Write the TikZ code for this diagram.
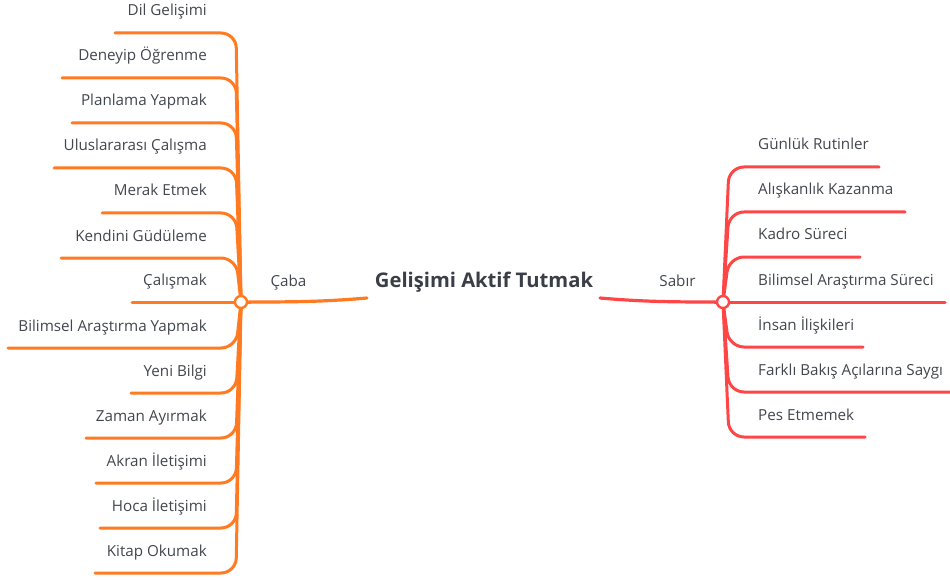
\documentclass[tikz,border=0pt]{standalone}
\usepackage{fontspec}
\setmainfont{Open Sans}
\definecolor{caba}{RGB}{255,122,32}
\definecolor{sabir}{RGB}{255,70,70}
\definecolor{txt}{RGB}{66,70,78}
\definecolor{title}{RGB}{58,62,70}
\begin{document}
\begin{tikzpicture}[x=1pt,y=-1pt,
  leaf/.style={font=\fontsize{15.2}{18}\selectfont, text=txt, inner sep=0pt},
  topic/.style={font=\fontsize{15.2}{18}\selectfont, text=txt, inner sep=0pt},
  root/.style={font=\bfseries\fontsize{20.2}{23}\selectfont, text=title, inner sep=0pt},
  hub/.style={circle, fill=white, line width=2.4pt, minimum size=12pt, inner sep=0pt},
  twig/.style={line width=3pt, rounded corners=15pt, line cap=round},
  stem/.style={line width=3.2pt, line cap=round},
]
\useasboundingbox (0,0) rectangle (950,580);

% central topic and the two main topic labels
\node[root, anchor=base] (root) at (484,287) {Gelişimi Aktif Tutmak};
\node[topic, anchor=base] (caba) at (288.5,286) {Çaba};
\node[topic, anchor=base] (sabir) at (677.5,286) {Sabır};

% hub positions
\coordinate (hl) at (241,302);
\coordinate (hr) at (723,302);
\coordinate (rootL) at (367,298);
\coordinate (rootR) at (600,298);

% stems from the central topic to the hubs
\draw[stem, caba] (rootL) .. controls (320,302) and (290,302) .. (hl);
\draw[stem, sabir] (rootR) .. controls (646,302) and (676,302) .. (hr);

% left branch: underline height / left end / label
\foreach \y/\xl/\t [count=\i] in {
  33/115/Dil Gelişimi,
  78/62/Deneyip Öğrenme,
  123/72/Planlama Yapmak,
  168/54/Uluslararası Çalışma,
  213/102/Merak Etmek,
  258/61/Kendini Güdüleme,
  302/132/Çalışmak,
  348/8/Bilimsel Araştırma Yapmak,
  393/131/Yeni Bilgi,
  438/86/Zaman Ayırmak,
  483/96/Akran İletişimi,
  528/100/Hoca İletişimi,
  573/95/Kitap Okumak}{
  \coordinate (le\i) at (\xl,\y);
  \node[leaf, anchor=base east] (lt\i) at (207,\y-17) {\t};
  \draw[twig, caba] (hl) -- (236,\y) -- (le\i);
}

% right branch: underline height / right end / label
\foreach \y/\xr/\t [count=\i] in {
  167/879/Günlük Rutinler,
  212/905/Alışkanlık Kazanma,
  257/860/Kadro Süreci,
  302/945/Bilimsel Araştırma Süreci,
  347/863/İnsan İlişkileri,
  392/951/Farklı Bakış Açılarına Saygı,
  437/865/Pes Etmemek}{
  \coordinate (re\i) at (\xr,\y);
  \node[leaf, anchor=base west] (rt\i) at (758,\y-17) {\t};
  \draw[twig, sabir] (hr) -- (729,\y) -- (re\i);
}

% hubs drawn over the branch roots
\node[hub, draw=caba] (hubL) at (hl) {};
\node[hub, draw=sabir] (hubR) at (hr) {};
\end{tikzpicture}
\end{document}
